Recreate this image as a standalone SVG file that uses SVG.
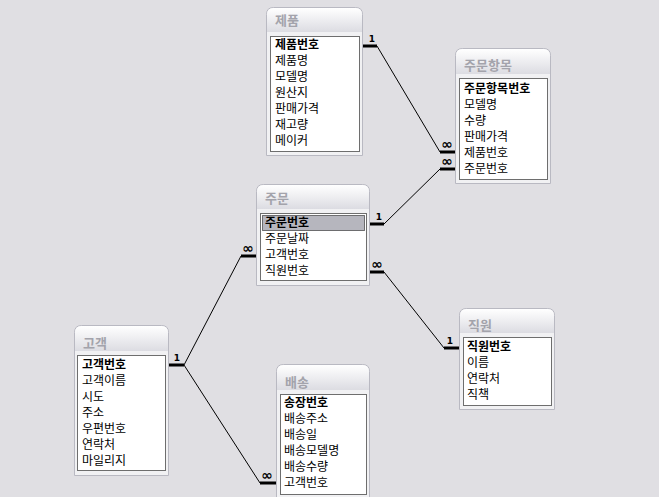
<svg xmlns="http://www.w3.org/2000/svg" width="659" height="497" viewBox="0 0 659 497">
<defs>
<linearGradient id="tb" x1="0" y1="0" x2="0" y2="1">
<stop offset="0" stop-color="#ffffff"/>
<stop offset="1" stop-color="#dcdce2"/>
</linearGradient>
</defs>
<style>
.bg{fill:#e0dfe3}
.win{fill:#f1f1f3;stroke:#b9b9c2;stroke-width:1}
.tb{fill:url(#tb)}
.ttl{font-family:"Liberation Sans","Noto Sans CJK KR",sans-serif;font-size:13px;font-weight:bold;fill:#a3a3ab}
.lst{fill:#ffffff;stroke:#6e6e6e;stroke-width:1}
.row{font-family:"Liberation Sans","Noto Sans CJK KR",sans-serif;font-size:12px;fill:#000}
.pk{font-weight:bold}
.sel{fill:#b6b6be;stroke:#000;stroke-width:1;stroke-dasharray:1 1}
.bar{stroke:#000;stroke-width:3;fill:none}
.ln{stroke:#000;stroke-width:1;fill:none}
.card{font-family:"DejaVu Sans",sans-serif;font-size:9px;font-weight:bold;fill:#000;text-anchor:middle}
.inf{font-family:"DejaVu Sans",sans-serif;font-size:14px;font-weight:bold;fill:#000;text-anchor:middle}
</style>
<rect class="bg" x="0" y="0" width="659" height="497"/>

<g id="connectors">
<line class="bar" x1="363" y1="46" x2="377" y2="46"/>
<text class="card" x="372" y="42">1</text>
<line class="ln" x1="377" y1="46" x2="440" y2="152"/>
<line class="bar" x1="440" y1="152" x2="455" y2="152"/>
<text class="inf" x="447" y="149">∞</text>

<line class="bar" x1="369" y1="224" x2="384" y2="224"/>
<text class="card" x="379" y="220">1</text>
<line class="ln" x1="384" y1="224" x2="440" y2="169"/>
<line class="bar" x1="440" y1="169" x2="455" y2="169"/>
<text class="inf" x="447" y="166">∞</text>

<line class="bar" x1="169" y1="365" x2="184" y2="365"/>
<text class="card" x="177" y="361">1</text>
<line class="ln" x1="184" y1="365" x2="241" y2="256"/>
<line class="bar" x1="241" y1="256" x2="256" y2="256"/>
<text class="inf" x="248" y="253">∞</text>

<line class="ln" x1="184" y1="365" x2="260" y2="483"/>
<line class="bar" x1="260" y1="483" x2="276" y2="483"/>
<text class="inf" x="267" y="480">∞</text>

<line class="bar" x1="369" y1="272" x2="384" y2="272"/>
<text class="inf" x="377" y="269">∞</text>
<line class="ln" x1="384" y1="272" x2="444" y2="348"/>
<line class="bar" x1="444" y1="348" x2="459" y2="348"/>
<text class="card" x="450" y="344">1</text>
</g>

<g id="product">
<path class="win" d="M266.5,155.5 V14.5 Q266.5,7.5 273.5,7.5 H355.5 Q362.5,7.5 362.5,14.5 V155.5 Z"/>
<path class="tb" d="M267,32 V15 Q267,8 274,8 H355 Q362,8 362,15 V32 Z"/>
<text class="ttl" x="275" y="25">제품</text>
<rect class="lst" x="270.5" y="36.5" width="89" height="115"/>
<text class="row pk" x="275" y="49">제품번호</text>
<text class="row" x="275" y="65">제품명</text>
<text class="row" x="275" y="81">모델명</text>
<text class="row" x="275" y="97">원산지</text>
<text class="row" x="275" y="113">판매가격</text>
<text class="row" x="275" y="129">재고량</text>
<text class="row" x="275" y="145">메이커</text>
</g>

<g id="orderitem">
<path class="win" d="M455.5,183.5 V55.5 Q455.5,48.5 462.5,48.5 H543.5 Q550.5,48.5 550.5,55.5 V183.5 Z"/>
<path class="tb" d="M456,74 V56 Q456,49 463,49 H543 Q550,49 550,56 V74 Z"/>
<text class="ttl" x="464" y="70">주문항목</text>
<rect class="lst" x="459.5" y="78.5" width="88" height="101"/>
<text class="row pk" x="464" y="93">주문항목번호</text>
<text class="row" x="464" y="109">모델명</text>
<text class="row" x="464" y="125">수량</text>
<text class="row" x="464" y="141">판매가격</text>
<text class="row" x="464" y="157">제품번호</text>
<text class="row" x="464" y="173">주문번호</text>
</g>

<g id="order">
<path class="win" d="M256.5,285.5 V191.5 Q256.5,184.5 263.5,184.5 H362.5 Q369.5,184.5 369.5,191.5 V285.5 Z"/>
<path class="tb" d="M257,209 V192 Q257,185 264,185 H362 Q369,185 369,192 V209 Z"/>
<text class="ttl" x="265" y="203">주문</text>
<rect class="lst" x="260.5" y="213.5" width="106" height="67"/>
<rect class="sel" x="262.5" y="215.5" width="102" height="15"/>
<text class="row pk" x="265" y="227">주문번호</text>
<text class="row" x="265" y="243">주문날짜</text>
<text class="row" x="265" y="259">고객번호</text>
<text class="row" x="265" y="275">직원번호</text>
</g>

<g id="customer">
<path class="win" d="M74.5,475.5 V332.5 Q74.5,325.5 81.5,325.5 H161.5 Q168.5,325.5 168.5,332.5 V475.5 Z"/>
<path class="tb" d="M75,351 V333 Q75,326 82,326 H161 Q168,326 168,333 V351 Z"/>
<text class="ttl" x="83" y="348">고객</text>
<rect class="lst" x="77.5" y="355.5" width="88" height="115"/>
<text class="row pk" x="82" y="369">고객번호</text>
<text class="row" x="82" y="385">고객이름</text>
<text class="row" x="82" y="401">시도</text>
<text class="row" x="82" y="417">주소</text>
<text class="row" x="82" y="433">우편번호</text>
<text class="row" x="82" y="449">연락처</text>
<text class="row" x="82" y="465">마일리지</text>
</g>

<g id="delivery">
<path class="win" d="M276.5,500 V371.5 Q276.5,364.5 283.5,364.5 H362.5 Q369.5,364.5 369.5,371.5 V500 Z"/>
<path class="tb" d="M277,390 V372 Q277,365 284,365 H362 Q369,365 369,372 V390 Z"/>
<text class="ttl" x="285" y="387">배송</text>
<rect class="lst" x="280.5" y="394.5" width="86" height="100"/>
<text class="row pk" x="284" y="407">송장번호</text>
<text class="row" x="284" y="423">배송주소</text>
<text class="row" x="284" y="439">배송일</text>
<text class="row" x="284" y="455">배송모델명</text>
<text class="row" x="284" y="471">배송수량</text>
<text class="row" x="284" y="487">고객번호</text>
</g>

<g id="employee">
<path class="win" d="M459.5,409.5 V315.5 Q459.5,308.5 466.5,308.5 H547.5 Q554.5,308.5 554.5,315.5 V409.5 Z"/>
<path class="tb" d="M460,333 V316 Q460,309 467,309 H547 Q554,309 554,316 V333 Z"/>
<text class="ttl" x="468" y="330">직원</text>
<rect class="lst" x="463.5" y="337.5" width="88" height="68"/>
<text class="row pk" x="467" y="351">직원번호</text>
<text class="row" x="467" y="367">이름</text>
<text class="row" x="467" y="383">연락처</text>
<text class="row" x="467" y="399">직책</text>
</g>
</svg>
